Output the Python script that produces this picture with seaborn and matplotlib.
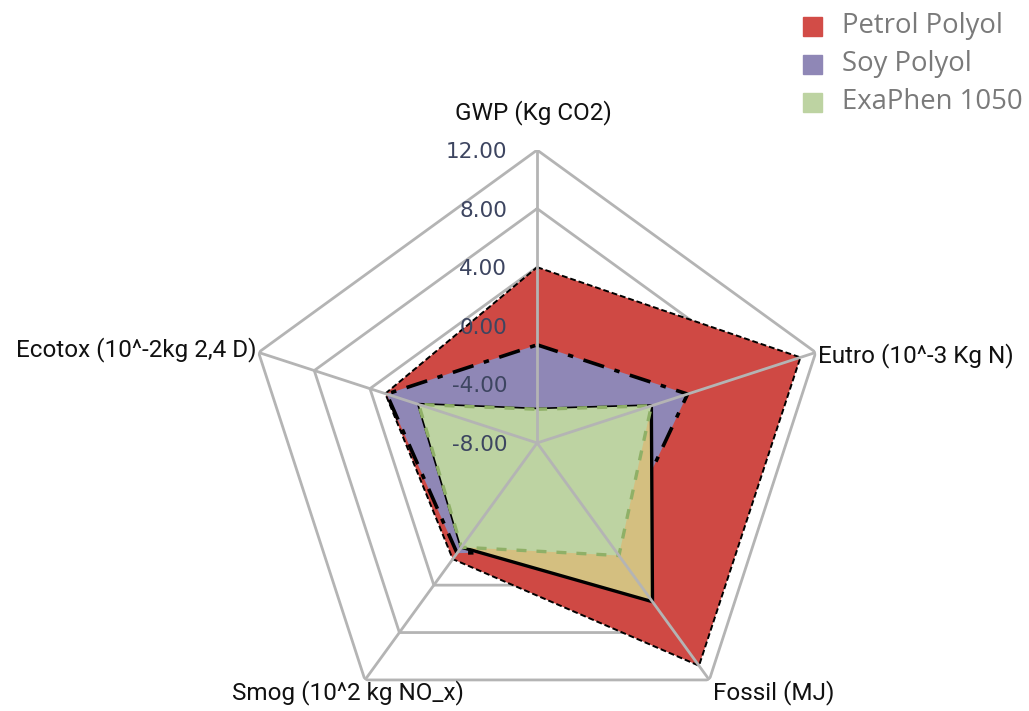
import numpy as np
import pandas as pd
import matplotlib
matplotlib.use('Agg')
import matplotlib.pyplot as plt
import seaborn as sns

# axes of the radar, clockwise from the top
categories = ['GWP (Kg CO2)', 'Eutro (10^-3 Kg N)', 'Fossil (MJ)',
              'Smog (10^2 kg NO_x)', 'Ecotox (10^-2kg 2,4 D)']

petrol = [4.0, 10.9, 10.8, 1.8, 2.9]
soy = [-1.3, 2.8, 1.0, 1.3, 2.8]
exaphen_outer = [-5.7, 0.2, 5.4, 0.8, 0.5]   # tan area with the solid black edge
exaphen = [-5.7, 0.2, 1.5, 0.8, 0.5]

ring_values = [12, 8, 4, 0, -4]
tick_labels = ['12.00', '8.00', '4.00', '0.00', '-4.00', '-8.00']
tick_values = [12, 8, 4, 0, -4, -8]

df = pd.DataFrame({'Petrol Polyol': petrol, 'Soy Polyol': soy,
                   'ExaPhen outer': exaphen_outer, 'ExaPhen 1050': exaphen},
                  index=categories)

sns.set_style('white')
plt.rcParams['font.family'] = ['Open Sans', 'DejaVu Sans']

fig = plt.figure(figsize=(10.29, 7.11), dpi=100)
ax = fig.add_axes([0.237, -0.035, 0.570, 0.824], projection='polar')
ax.set_theta_offset(np.pi / 2)
ax.set_theta_direction(-1)
ax.set_ylim(-8, 12)
ax.grid(False)
ax.set_xticks([])
ax.set_yticks([])
ax.spines['polar'].set_visible(False)

n = len(categories)
theta = np.linspace(0, 2 * np.pi, n, endpoint=False)
closed = np.append(theta, theta[0])

grid_col = '#b4b4b4'
for rv in ring_values:
    ax.plot(closed, [rv] * (n + 1), color=grid_col, lw=2, zorder=1)

styles = [
    ('Petrol Polyol', '#cf4944', 'black', (0, (3, 1.5)), 1.4),
    ('Soy Polyol', '#8f87b6', 'black', (0, (6, 3, 1.5, 3)), 2.6),
    ('ExaPhen outer', '#d4bf80', 'black', '-', 2.4),
    ('ExaPhen 1050', '#bdd3a2', '#8fb067', (0, (3, 3)), 2.4),
]
for z, (name, fc, ec, ls, lw) in enumerate(styles):
    vals = np.append(df[name].values, df[name].values[0])
    ax.fill(closed, vals, color=fc, zorder=2 + z, lw=0)
    ax.plot(closed, vals, color=ec, ls=ls, lw=lw, zorder=2 + z)

# spokes drawn over the fills
for t in theta:
    ax.plot([t, t], [-8, 12], color=grid_col, lw=2, zorder=10)

for v, lab in zip(tick_values, tick_labels):
    ax.annotate(lab, xy=(0, v), xytext=(-30, -2), textcoords='offset pixels',
                ha='right', va='center', fontsize=15.5, color='#3d4560',
                family=['DejaVu Sans'], zorder=11, annotation_clip=False)

offsets = [((-4, 37), 'center'), ((2, -3), 'left'), ((4, -13), 'left'),
           ((-17, -13), 'center'), ((-2, 3), 'right')]
for t, lab, (off, ha) in zip(theta, categories, offsets):
    ax.annotate(lab, xy=(t, 12), xytext=off, textcoords='offset pixels',
                ha=ha, va='center', fontsize=17.5, color='#111111',
                family=['Roboto', 'DejaVu Sans'], annotation_clip=False)

# legend in the top right corner
legend_names = ['Petrol Polyol', 'Soy Polyol', 'ExaPhen 1050']
legend_cols = ['#d24c47', '#8f87b6', '#bdd3a2']
for i, (name, col) in enumerate(zip(legend_names, legend_cols)):
    y = 1 - (26 + 38 * i) / 711
    fig.patches.append(plt.Rectangle((803 / 1029, y - 10 / 711), 19 / 1029, 19 / 711,
                                     color=col, transform=fig.transFigure, figure=fig))
    fig.text(842 / 1029, y, name, ha='left', va='center', fontsize=19.8, color='#7a7a7a')

fig.savefig('out.png', dpi=100)
